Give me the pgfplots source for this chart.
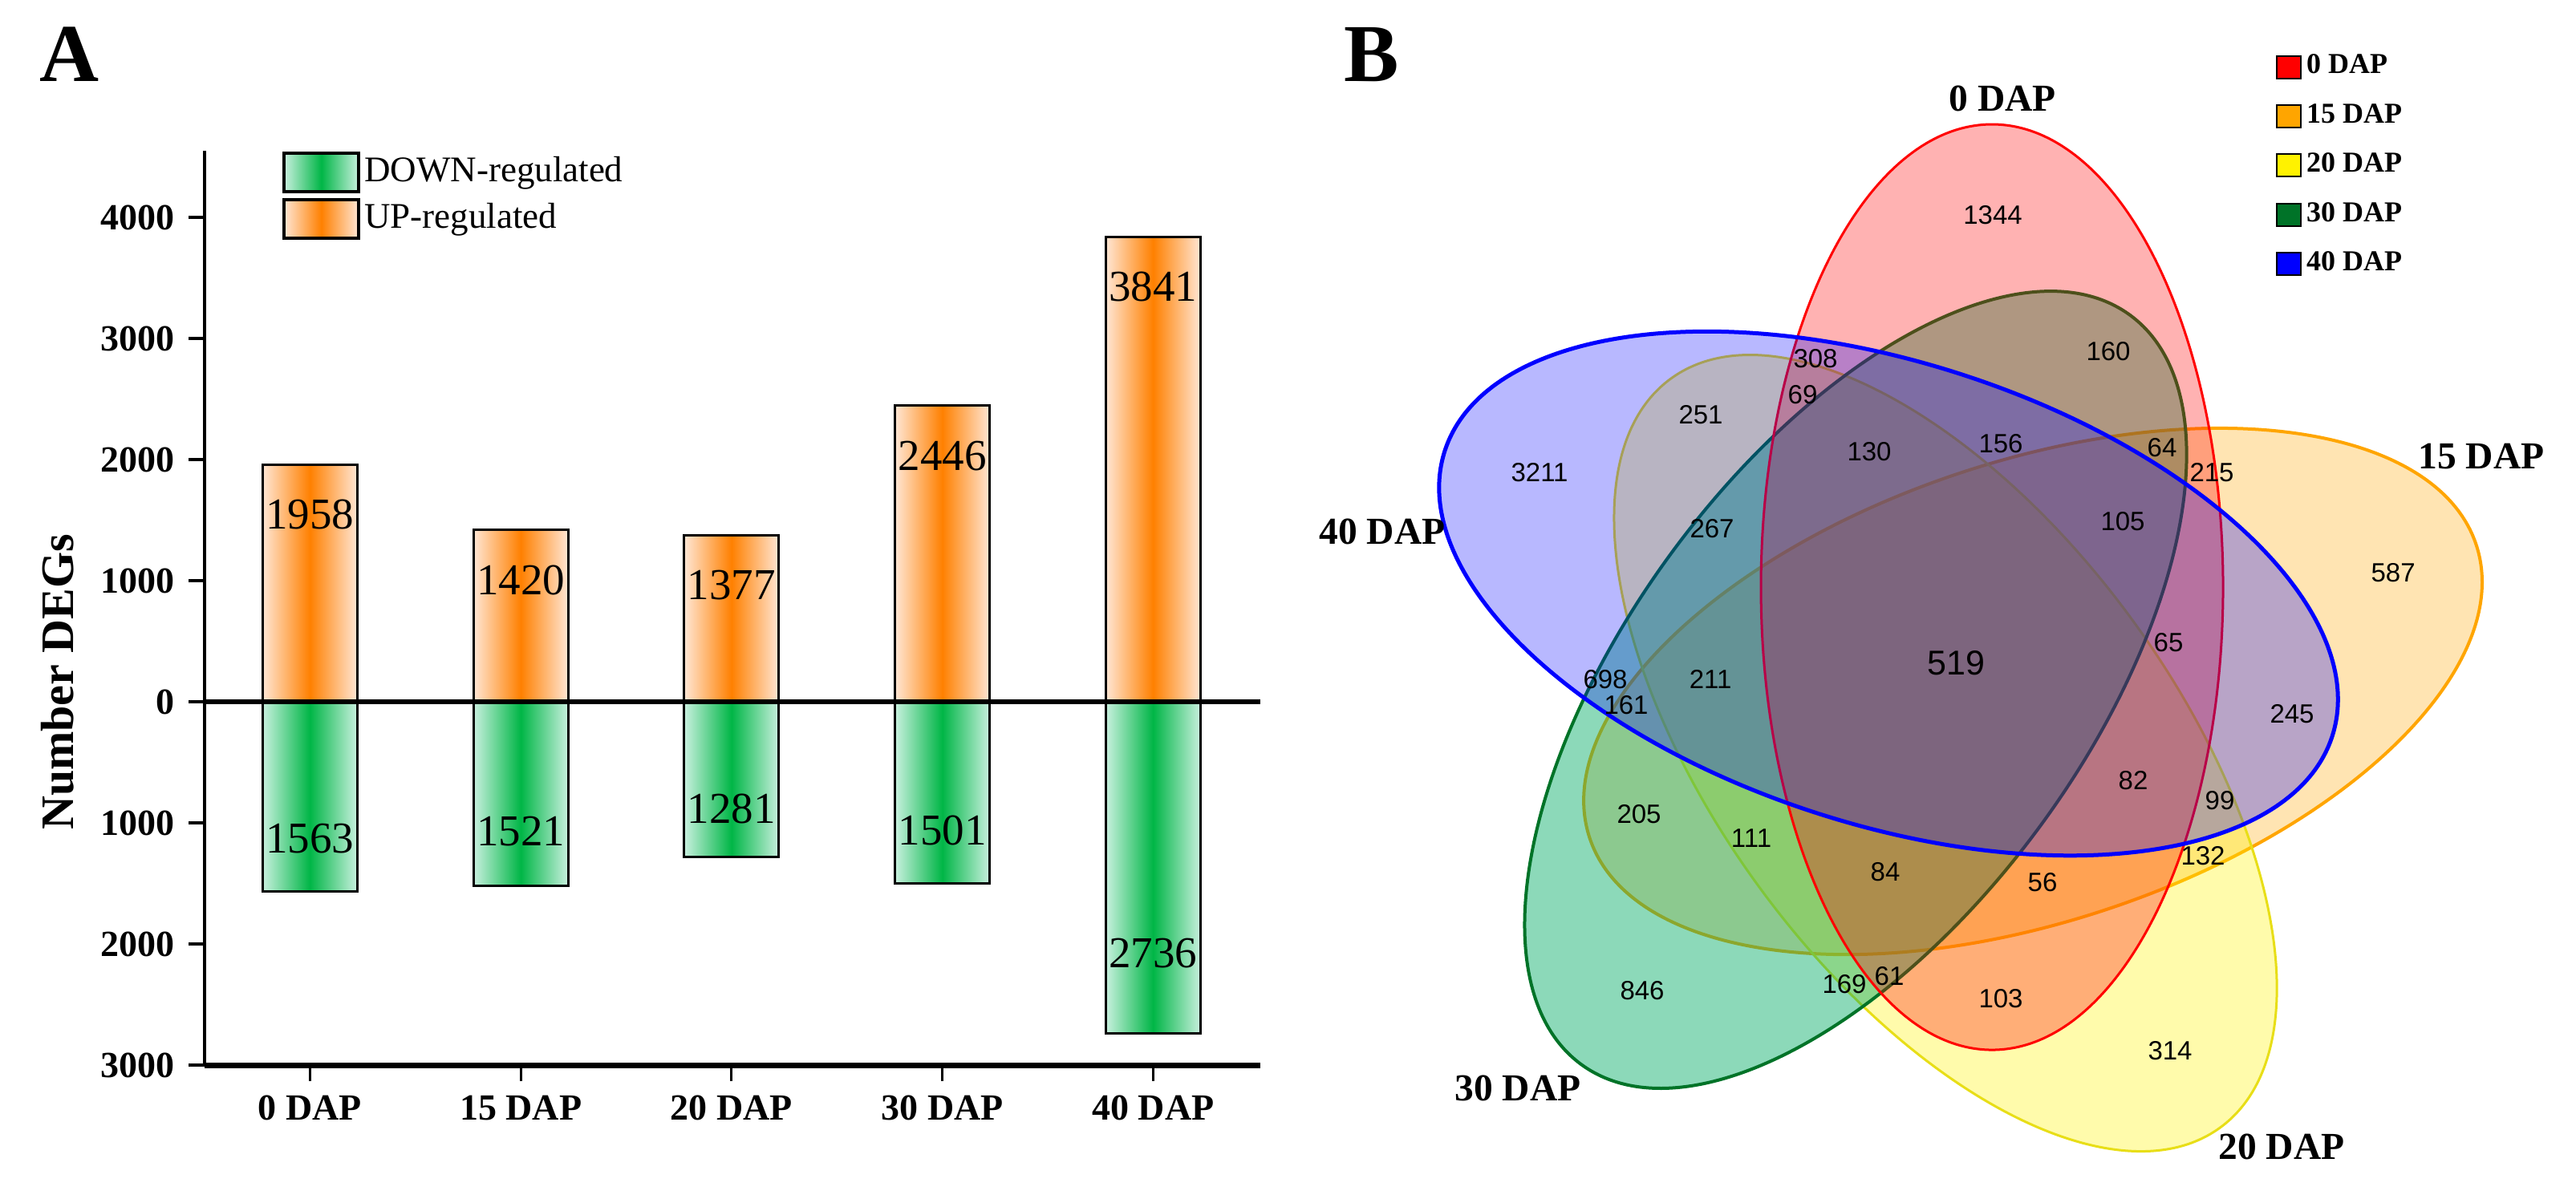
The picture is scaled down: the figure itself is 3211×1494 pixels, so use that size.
\documentclass[border=0pt]{standalone}
\usepackage{pgfplots}
\pgfplotsset{compat=1.18}
\usepackage{fontspec}
\setmainfont{Liberation Serif}
\newfontfamily\arialfont{Liberation Sans}

% bar gradients
\definecolor{omid}{RGB}{255,128,0}
\definecolor{oedge}{RGB}{255,230,212}
\definecolor{gmid}{RGB}{0,182,70}
\definecolor{gedge}{RGB}{200,240,222}
% venn colours
\definecolor{vorange}{RGB}{255,165,0}
\definecolor{vgreen}{RGB}{0,115,40}
\definecolor{vgfill}{RGB}{0,170,100}

\newcommand\tickfont{\bfseries\fontsize{9.2}{11}\selectfont}
\newcommand\valfont{\fontsize{11}{13}\selectfont}
\newcommand\numfont{\arialfont\fontsize{6.6}{8}\selectfont}
\newcommand\bignumfont{\arialfont\fontsize{8.6}{10}\selectfont}
\newcommand\setfont{\bfseries\fontsize{9.5}{11}\selectfont}

\pgfplotsset{
  upbar/.style={ybar, bar width=23.6pt, bar shift=0pt, draw=black, line width=0.6pt,
    left color=oedge, right color=oedge, middle color=omid, forget plot,
    nodes near coords, point meta=explicit symbolic,
    every node near coord/.append style={anchor=center, yshift=-#1, font=\valfont, text=black}},
  downbar/.style={ybar, bar width=23.6pt, bar shift=0pt, draw=black, line width=0.6pt,
    left color=gedge, right color=gedge, middle color=gmid, forget plot,
    nodes near coords, point meta=explicit symbolic,
    every node near coord/.append style={anchor=center, yshift=#1, font=\valfont, text=black}},
  vtext/.style={draw=none, mark=none, forget plot,
    nodes near coords, point meta=explicit symbolic,
    every node near coord/.append style={anchor=center, font=#1, text=black}},
}

\begin{document}
\begin{tikzpicture}[x=0.2pt,y=-0.2pt]
\useasboundingbox (0,0) rectangle (3211,1494);

\node[font=\bfseries\fontsize{20.5}{22}\selectfont] at (87,68) {A};
\node[font=\bfseries\fontsize{20.5}{22}\selectfont] at (1710,68) {B};

% ---------------- panel A ----------------
\begin{axis}[
  at={(51pt,-265.6pt)}, anchor=south west,
  x=52.55pt, y=0.0302pt,
  xmin=-0.5, xmax=4.51, ymin=-3000, ymax=4550,
  axis x line*=bottom, axis y line*=left,
  x axis line style={line width=1.4pt},
  y axis line style={line width=0.8pt},
  tick align=outside, major tick length=4pt,
  xtick={0,1,2,3,4},
  xticklabels={0 DAP,15 DAP,20 DAP,30 DAP,40 DAP},
  ytick={-3000,-2000,-1000,0,1000,2000,3000,4000},
  yticklabels={3000,2000,1000,0,1000,2000,3000,4000},
  xtick style={black, line width=0.6pt},
  ytick style={black, line width=0.9pt},
  ticklabel style={font=\tickfont},
  ylabel={Number DEGs},
  every axis y label/.style={at={(axis description cs:-0.139,0.419)}, rotate=90,
    anchor=center, font=\bfseries\fontsize{11.6}{13}\selectfont},
  clip=false,
  legend style={at={(axis description cs:0.073,1.0)}, anchor=north west,
    draw=none, fill=none, inner sep=0pt, row sep=1.2pt,
    font=\fontsize{9}{10}\selectfont, nodes={inner sep=1pt}},
  legend cell align=left,
  legend image code/.code={\draw[#1, draw=black, line width=0.8pt] (0pt,-4.8pt) rectangle (18.6pt,4.8pt);},
]
\addlegendimage{left color=gedge, right color=gedge, middle color=gmid}
\addlegendentry{DOWN-regulated}
\addlegendimage{left color=oedge, right color=oedge, middle color=omid}
\addlegendentry{UP-regulated}

% UP-regulated
\addplot[upbar=12.5pt] coordinates {(0,1958) [1958]};
\addplot[upbar=12.5pt] coordinates {(1,1420) [1420]};
\addplot[upbar=12.5pt] coordinates {(2,1377) [1377]};
\addplot[upbar=12.5pt] coordinates {(3,2446) [2446]};
\addplot[upbar=12.5pt] coordinates {(4,3841) [3841]};
% DOWN-regulated
\addplot[downbar=13pt] coordinates {(0,-1563) [1563]};
\addplot[downbar=13.6pt] coordinates {(1,-1521) [1521]};
\addplot[downbar=12pt] coordinates {(2,-1281) [1281]};
\addplot[downbar=13.2pt] coordinates {(3,-1501) [1501]};
\addplot[downbar=20pt] coordinates {(4,-2736) [2736]};

\draw[line width=1.1pt] (axis cs:-0.5,0) -- (axis cs:4.51,0);
\end{axis}

% ---------------- panel B ----------------
\begin{axis}[
  at={(320pt,-298.8pt)}, anchor=south west,
  x=0.2pt, y=0.2pt,
  xmin=1600, xmax=3211, ymin=0, ymax=1494, y dir=reverse,
  hide axis, clip=false,
  legend style={at={(axis description cs:0.7672,0.9592)}, anchor=north west,
    draw=none, fill=none, inner sep=0pt, row sep=3.6pt,
    font=\bfseries\fontsize{7.2}{8}\selectfont, nodes={inner sep=1.2pt}},
  legend cell align=left,
  legend image code/.code={\fill[#1] (0pt,-2.8pt) rectangle (6pt,2.8pt);},
]
\addlegendimage{fill=red}\addlegendentry{0 DAP}
\addlegendimage{fill=vorange}\addlegendentry{15 DAP}
\addlegendimage{fill=yellow}\addlegendentry{20 DAP}
\addlegendimage{fill=vgreen}\addlegendentry{30 DAP}
\addlegendimage{fill=blue}\addlegendentry{40 DAP}

% sets, bottom to top: 15, 20, 30, 0, 40 DAP
\draw[vorange, line width=0.8pt, fill=vorange, fill opacity=0.3,
  rotate around={18.3:(axis cs:2534,862)}] (axis cs:2534,862) ellipse [x radius=116.4pt, y radius=57.4pt];
\draw[yellow!90!black, line width=0.6pt, fill=yellow, fill opacity=0.33,
  rotate around={-53.7:(axis cs:2425,939)}] (axis cs:2425,939) ellipse [x radius=115.8pt, y radius=57.2pt];
\draw[vgreen, line width=0.8pt, fill=vgfill, fill opacity=0.45,
  rotate around={53.8:(axis cs:2313,860)}] (axis cs:2313,860) ellipse [x radius=115.8pt, y radius=57.2pt];
\draw[red, line width=0.6pt, fill=red, fill opacity=0.3,
  rotate around={90:(axis cs:2483,732)}] (axis cs:2483,732) ellipse [x radius=115.4pt, y radius=57.6pt];
\draw[blue, line width=1pt, fill=blue, fill opacity=0.28,
  rotate around={-17.8:(axis cs:2354,740)}] (axis cs:2354,740) ellipse [x radius=116.2pt, y radius=57.6pt];

% region counts
\addplot[vtext=\numfont] coordinates {
  (2484,268) [1344] (2628,438) [160] (2263,447) [308] (2247,492) [69]
  (2120,517) [251] (1919,589) [3211] (2330,563) [130] (2494,553) [156]
  (2695,558) [64] (2757,589) [215] (2134,659) [267] (2646,650) [105]
  (2983,714) [587] (2703,801) [65] (2001,847) [698] (2132,847) [211]
  (2027,879) [161] (2857,890) [245] (2659,973) [82] (2767,998) [99]
  (2043,1015) [205] (2183,1045) [111] (2746,1067) [132] (2350,1087) [84]
  (2546,1100) [56] (2355,1217) [61] (2299,1227) [169] (2047,1235) [846]
  (2494,1245) [103] (2705,1310) [314]
};
\addplot[vtext=\bignumfont] coordinates {(2438,827) [519]};
% set names
\addplot[vtext=\setfont] coordinates {
  (2496,123) [0 DAP] (3093,569) [15 DAP] (2844,1430) [20 DAP]
  (1892,1357) [30 DAP] (1723,663) [40 DAP]
};
\end{axis}
\end{tikzpicture}
\end{document}
